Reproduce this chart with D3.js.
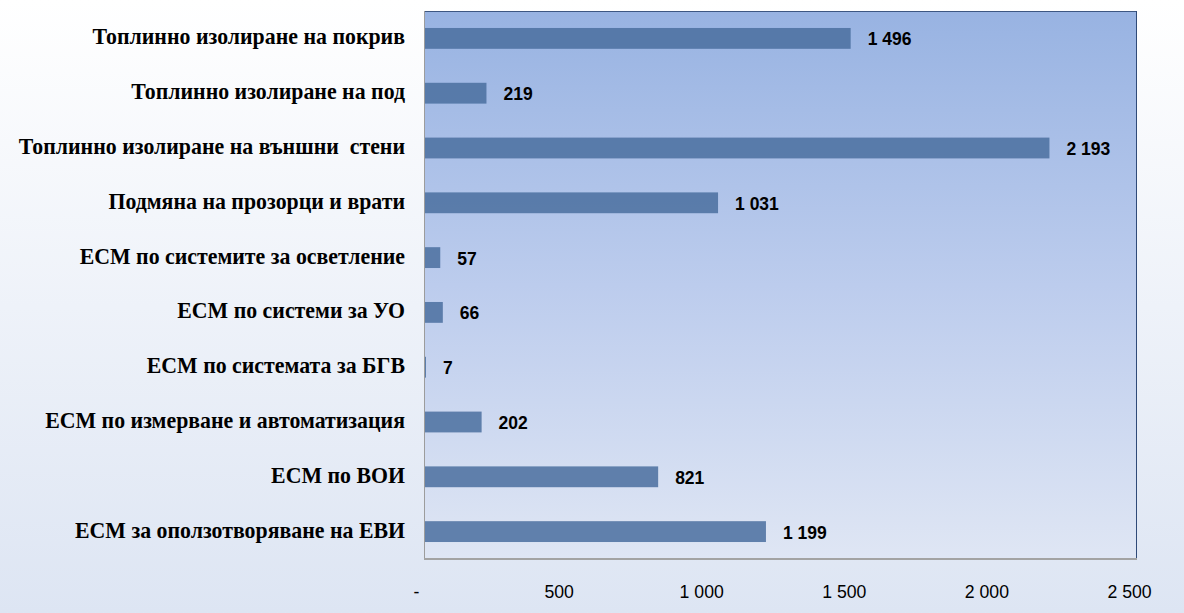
<!DOCTYPE html>
<html>
<head>
<meta charset="utf-8">
<script src="https://cdn.jsdelivr.net/npm/d3@7"></script>
<style>
  body { margin: 0; padding: 0; background: #fff; }
  svg { display: block; }
</style>
</head>
<body>
<div class="chart"></div>
<script>
// categories, top to bottom
const categories = [
    "Топлинно изолиране на покрив",
    "Топлинно изолиране на под",
    "Топлинно изолиране на външни  стени",
    "Подмяна на прозорци и врати",
    "ЕСМ по системите за осветление",
    "ЕСМ по системи за УО",
    "ЕСМ по системата за БГВ",
    "ЕСМ по измерване и автоматизация",
    "ЕСМ по ВОИ",
    "ЕСМ за оползотворяване на ЕВИ"
];
const values = [1496, 219, 2193, 1031, 57, 66, 7, 202, 821, 1199];
const xTicks = [0, 500, 1000, 1500, 2000, 2500];

const W = 1184, H = 613;
const margin = { top: 11, right: 47, bottom: 54, left: 424 };
const width = W - margin.left - margin.right;
const height = H - margin.top - margin.bottom;

// format "1 496", zero shown as "-"
const fmt = v => v === 0 ? "-" : d3.format(",")(v).replace(/,/g, " ");

const svg = d3.select(".chart").append("svg")
    .attr("width", W)
    .attr("height", H);

const defs = svg.append("defs");

const pageGrad = defs.append("linearGradient")
    .attr("id", "pageGrad").attr("x1", 0).attr("y1", 0).attr("x2", 0).attr("y2", 1);
pageGrad.append("stop").attr("offset", "0%").attr("stop-color", "#ffffff");
pageGrad.append("stop").attr("offset", "100%").attr("stop-color", "#dde5f3");

const plotGrad = defs.append("linearGradient")
    .attr("id", "plotGrad").attr("x1", 0).attr("y1", 0).attr("x2", 0).attr("y2", 1);
plotGrad.append("stop").attr("offset", "0%").attr("stop-color", "#98b3e2");
plotGrad.append("stop").attr("offset", "50%").attr("stop-color", "#bccced");
plotGrad.append("stop").attr("offset", "100%").attr("stop-color", "#dfe6f4");

svg.append("rect")
    .attr("width", W).attr("height", H)
    .attr("fill", "url(#pageGrad)");

const g = svg.append("g")
    .attr("transform", `translate(${margin.left},${margin.top})`);

// plot background
g.append("rect")
    .attr("width", width).attr("height", height)
    .attr("fill", "url(#plotGrad)");

const xScale = d3.scaleLinear()
    .domain([0, 2500])
    .range([0, width]);

const yScale = d3.scaleBand()
    .domain(categories)
    .range([0, height])
    .paddingInner(0.62)
    .paddingOuter(0.31);

// bars
g.selectAll("rect.bar")
    .data(values)
    .enter()
    .append("rect")
    .attr("class", "bar")
    .attr("x", 0)
    .attr("y", (d, i) => yScale(categories[i]))
    .attr("width", d => xScale(d))
    .attr("height", yScale.bandwidth())
    .attr("fill", "#4a6e9f")
    .attr("fill-opacity", 0.85);

// value labels
g.selectAll("text.val")
    .data(values)
    .enter()
    .append("text")
    .attr("class", "val")
    .attr("x", d => xScale(d) + 17)
    .attr("y", (d, i) => yScale(categories[i]) + yScale.bandwidth() / 2)
    .attr("dy", "0.4em")
    .style("font-family", "'Liberation Sans', Arial, sans-serif")
    .style("font-weight", "bold")
    .style("font-size", "17.5px")
    .attr("fill", "#000")
    .text(d => fmt(d));

// borders
g.append("line").attr("x1", 0).attr("x2", width).attr("y1", 0.5).attr("y2", 0.5)
    .attr("stroke", "#3d5782").attr("stroke-width", 1);
g.append("line").attr("x1", width - 0.5).attr("x2", width - 0.5).attr("y1", 0).attr("y2", height)
    .attr("stroke", "#2f4a78").attr("stroke-width", 1);
g.append("line").attr("x1", 0.5).attr("x2", 0.5).attr("y1", 0).attr("y2", height)
    .attr("stroke", "#9c9c9c").attr("stroke-width", 1);
g.append("line").attr("x1", 0).attr("x2", width).attr("y1", height).attr("y2", height)
    .attr("stroke", "#a3a3a3").attr("stroke-width", 2);

// x axis
const tx = 0.93;
const xAxis = d3.axisBottom(xScale)
    .tickValues(xTicks)
    .tickSize(0)
    .tickFormat(fmt);
const xg = g.append("g")
    .attr("transform", `translate(0,${height})`)
    .call(xAxis);
xg.select(".domain").remove();
xg.selectAll("text")
    .attr("y", 39.5)
    .attr("dy", 0)
    .attr("x", -8 / tx)
    .attr("transform", `scale(${tx},1)`)
    .style("font-family", "'Liberation Sans', Arial, sans-serif")
    .style("font-size", "19px")
    .attr("fill", "#000");

// y axis (category labels), condensed bold serif
const sx = 0.95;
const yAxis = d3.axisLeft(yScale).tickSize(0).tickPadding(0);
const yg = g.append("g").call(yAxis);
yg.select(".domain").remove();
yg.selectAll("text")
    .attr("x", -19 / sx)
    .attr("dy", "0.26em")
    .attr("transform", `scale(${sx},1)`)
    .style("font-family", "'Liberation Serif', 'Times New Roman', serif")
    .style("font-weight", "bold")
    .style("font-size", "23px")
    .style("white-space", "pre")
    .attr("fill", "#000");
</script>
</body>
</html>
